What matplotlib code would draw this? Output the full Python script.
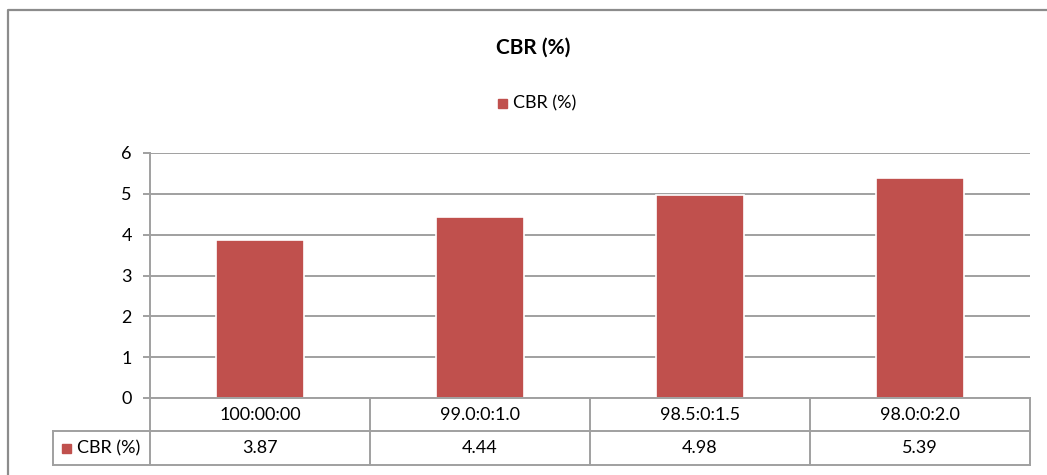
"""CBR (%) bar chart with an Excel-style data table underneath."""

import matplotlib

matplotlib.use("Agg")
import matplotlib.pyplot as plt
from matplotlib.lines import Line2D

categories = ["100:00:00", "99.0:0:1.0", "98.5:0:1.5", "98.0:0:2.0"]
cbr_values = [3.87, 4.44, 4.98, 5.39]
value_labels = ["3.87", "4.44", "4.98", "5.39"]
series_name = "CBR (%)"

BAR_COLOR = "#C0504D"
GRID_COLOR = "#A0A0A0"
BORDER_COLOR = "#8C8C8C"
W, H = 1047, 475
FS = 13

plt.rcParams["font.family"] = ["Lato", "DejaVu Sans"]

fig = plt.figure(figsize=(W / 100, H / 100), dpi=100)

# plot area in pixels: x 150..1030, y 153..398 (from top)
left, right, top, bottom = 150, 1030, 153, 398
ax = fig.add_axes([left / W, 1 - bottom / H, (right - left) / W, (bottom - top) / H])

x = range(len(categories))
ax.bar(x, cbr_values, width=0.4, color=BAR_COLOR, edgecolor="white",
       linewidth=1.2, zorder=3)
ax.set_xlim(-0.5, len(categories) - 0.5)
ax.set_ylim(0, 6)
ax.set_yticks(range(7))
ax.yaxis.grid(True, color=GRID_COLOR, linewidth=1.4, zorder=0)
ax.tick_params(axis="y", length=5, width=1.4, color=GRID_COLOR,
               labelsize=FS, pad=8)
ax.tick_params(axis="x", bottom=False, labelbottom=False)
for side in ["top", "right", "bottom"]:
    ax.spines[side].set_visible(False)
ax.spines["left"].set_color(GRID_COLOR)
ax.spines["left"].set_linewidth(1.4)


# data table below the plot, in pixel coords turned into figure fractions
def fx(px):
    return px / W


def fy(py):
    return 1 - py / H


row1, row2, row3 = 398, 431, 465
col_edges = [left + i * (right - left) / len(categories) for i in range(len(categories) + 1)]
lc = dict(color=GRID_COLOR, linewidth=1.4)
lines = [
    ([left, right], [row1, row1]),
    ([53, right], [row2, row2]),
    ([53, right], [row3, row3]),
    ([53, 53], [row2, row3]),
]
for cx in col_edges:
    lines.append(([cx, cx], [row1, row3]))
for xs, ys in lines:
    fig.add_artist(Line2D([fx(v) for v in xs], [fy(v) for v in ys], **lc))

for i, (cat, val) in enumerate(zip(categories, value_labels)):
    cx = (col_edges[i] + col_edges[i + 1]) / 2
    fig.text(fx(cx), fy((row1 + row2) / 2), cat, ha="center", va="center", fontsize=FS)
    fig.text(fx(cx), fy((row2 + row3) / 2), val, ha="center", va="center", fontsize=FS)

# series key in the table's first cell
ymid = (row2 + row3) / 2
fig.patches.append(plt.Rectangle((fx(62), fy(ymid + 4.5)), 9 / W, 9 / H,
                                 transform=fig.transFigure, color=BAR_COLOR))
fig.text(fx(77), fy(ymid), series_name, ha="left", va="center", fontsize=FS)

# title and legend
fig.text(fx(533), fy(48), series_name, ha="center", va="center",
         fontsize=15, fontweight="bold")
fig.patches.append(plt.Rectangle((fx(498), fy(103 + 4.5)), 9 / W, 9 / H,
                                 transform=fig.transFigure, color=BAR_COLOR))
fig.text(fx(513), fy(103), series_name, ha="left", va="center", fontsize=FS)

# chart border (top and left)
fig.add_artist(Line2D([fx(8), fx(8), fx(W)], [fy(H), fy(10), fy(10)],
                      color=BORDER_COLOR, linewidth=1.6))

fig.savefig("out.png", dpi=100)
